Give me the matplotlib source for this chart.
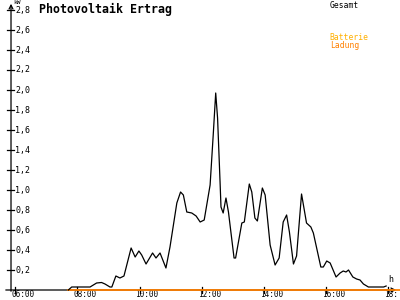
import numpy as np
import matplotlib
matplotlib.use("Agg")
from matplotlib import pyplot as plt

# Tagesverlauf Photovoltaik (Stunde, kW)
stunde = [7.71, 7.82, 8.14, 8.41, 8.62, 8.78, 8.89, 9.05, 9.11, 9.24, 9.37, 9.50,
          9.73, 9.86, 9.98, 10.07, 10.21, 10.42, 10.53, 10.66, 10.85, 10.98, 11.20,
          11.32, 11.41, 11.52, 11.68, 11.82, 11.95, 12.08, 12.27, 12.37, 12.45, 12.51,
          12.59, 12.62, 12.69, 12.78, 12.86, 13.04, 13.09, 13.29, 13.37, 13.53, 13.61,
          13.71, 13.79, 13.95, 14.04, 14.20, 14.36, 14.49, 14.62, 14.73, 14.82, 14.95,
          15.05, 15.21, 15.37, 15.51, 15.59, 15.83, 15.91, 16.02, 16.13, 16.32, 16.45,
          16.55, 16.64, 16.72, 16.86, 16.98, 17.09, 17.20, 17.36, 17.85, 17.93]
gesamt = [0.0, 0.03, 0.03, 0.03, 0.07, 0.075, 0.06, 0.03, 0.03, 0.14, 0.12, 0.14,
          0.42, 0.33, 0.39, 0.35, 0.26, 0.37, 0.32, 0.37, 0.22, 0.43, 0.87,
          0.98, 0.95, 0.78, 0.77, 0.74, 0.68, 0.70, 1.05, 1.55, 1.97, 1.72,
          1.08, 0.83, 0.77, 0.92, 0.78, 0.32, 0.32, 0.67, 0.68, 1.06, 0.98,
          0.72, 0.69, 1.02, 0.95, 0.45, 0.25, 0.32, 0.68, 0.75, 0.58, 0.26,
          0.34, 0.96, 0.67, 0.63, 0.57, 0.23, 0.23, 0.29, 0.27, 0.13, 0.17,
          0.19, 0.18, 0.20, 0.13, 0.11, 0.10, 0.06, 0.03, 0.03, 0.04]

y_ticks = [0.2, 0.4, 0.6, 0.8, 1.0, 1.2, 1.4, 1.6, 1.8, 2.0, 2.2, 2.4, 2.6, 2.8]
x_ticks = [6, 8, 10, 12, 14, 16, 18]
x_labels = ["06:00", "08:00", "10:00", "12:00", "14:00", "16:00", "18:"]

plt.rcParams['font.family'] = ['DejaVu Sans Mono']

fig = plt.figure(figsize=(4, 3), dpi=100)
ax = fig.add_axes([0, 0, 1, 1])
ax.set_xlim(5.514, 18.376)
ax.set_ylim(-0.10, 2.90)
ax.axis('off')

px = 1 / 31.1  # eine Pixelbreite in Stunden
py = 0.01      # eine Pixelhoehe in kW

# Achsen
ax.annotate('', xy=(18.376 - 1 * px, 0), xytext=(5.611, 0),
            arrowprops=dict(arrowstyle='->', color='black', lw=0.9, mutation_scale=7))
ax.annotate('', xy=(5.868, 2.90 - 1 * py), xytext=(5.868, -0.04),
            arrowprops=dict(arrowstyle='->', color='black', lw=0.9, mutation_scale=7))

for v in y_ticks:
    ax.plot([5.868 - 4 * px, 5.868 + 3 * px], [v, v], color='black', lw=0.9)
    ax.text(5.997, v, ("%.1f" % v).replace('.', ','), fontsize=6,
            ha='left', va='center')

for t, lab in zip(x_ticks, x_labels):
    ax.plot([t, t], [0.03, -0.03], color='black', lw=0.9)
    ax.text(t - 4 * px, -0.092, lab, fontsize=5.6, ha='left', va='bottom')

# Batterie-Ladung (Null) und Gesamt
ax.plot([stunde[0], 18.376], [0, 0], color='#FF8000', lw=1.3, zorder=3)
ax.plot(stunde, gesamt, color='black', lw=0.9, zorder=4)

ax.text(6.77, 2.875, "Photovoltaik Ertrag", fontsize=8.4, fontweight='bold',
        ha='left', va='top')
ax.text(5.93, 2.895, "kW", fontsize=4.5, ha='left', va='top')
ax.text(16.12, 2.885, "Gesamt", fontsize=5.8, ha='left', va='top')
ax.text(16.12, 2.575, "Batterie", fontsize=5.8, color='#FFB000', ha='left', va='top')
ax.text(16.12, 2.495, "Ladung", fontsize=5.8, color='#FF8000', ha='left', va='top')
ax.text(17.99, 0.06, "h", fontsize=6, ha='left', va='bottom')

fig.savefig("out.png", dpi=100)
